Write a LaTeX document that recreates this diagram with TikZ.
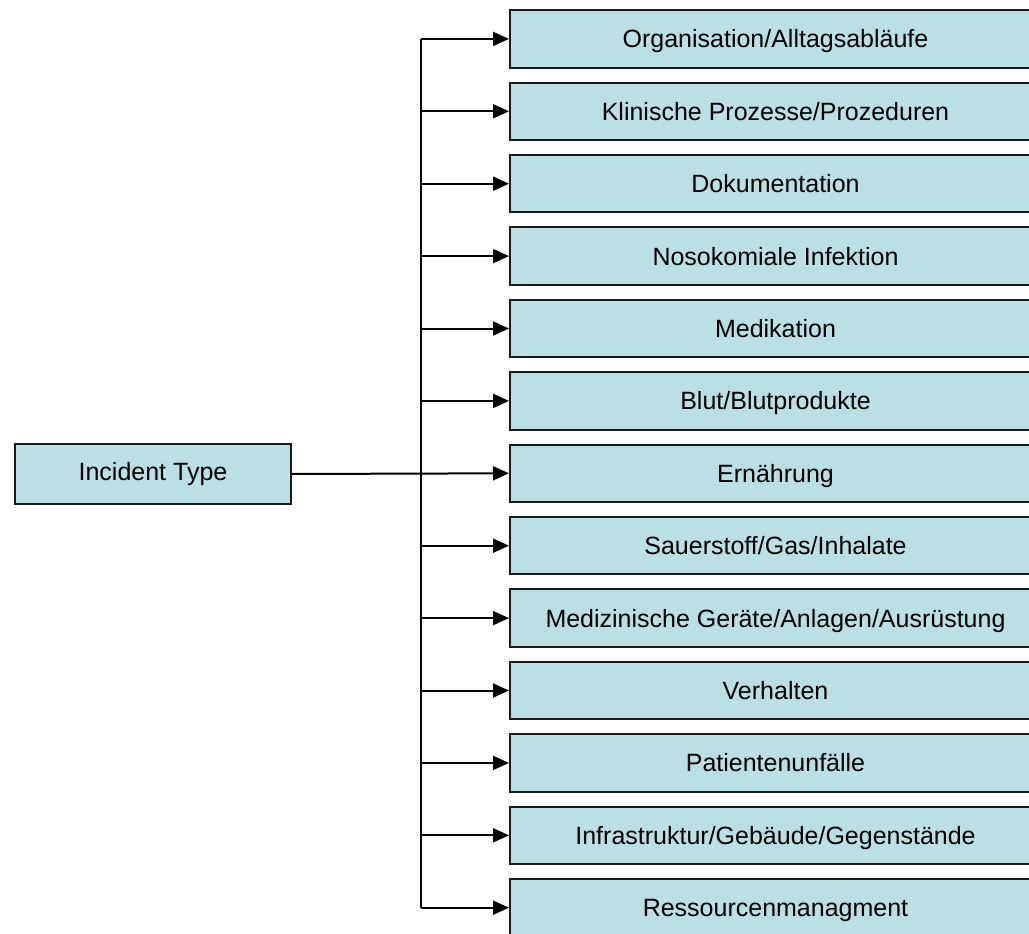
\documentclass[tikz,border=0pt]{standalone}
\usepackage{fontspec}
\setmainfont{Liberation Sans}
\usetikzlibrary{arrows.meta}
\definecolor{boxfill}{HTML}{BBE0E3}
\begin{document}
\begin{tikzpicture}[x=1pt,y=-1pt,
  catbox/.style={draw=black!90,line width=2pt,fill=boxfill,minimum width=531pt,minimum height=57.5pt,anchor=west,inner sep=0pt,text depth=0pt,font=\fontsize{25}{30}\selectfont},
  rootbox/.style={draw=black!90,line width=2pt,fill=boxfill,minimum width=276pt,minimum height=60pt,inner sep=0pt,font=\fontsize{25}{30}\selectfont},
  conn/.style={line width=2pt,black},
  arr/.style={conn,-{Triangle[length=16pt,width=14pt]}}]
\useasboundingbox (0,0) rectangle (1029,934);
\node[rootbox] (root) at (153,474) {Incident Type};
\foreach \i/\t in {1/Organisation\slash Alltagsabläufe,2/Klinische Prozesse\slash Prozeduren,3/Dokumentation,4/Nosokomiale Infektion,5/Medikation,6/Blut\slash Blutprodukte,7/Ernährung,8/Sauerstoff\slash Gas\slash Inhalate,9/Medizinische Geräte\slash Anlagen\slash Ausrüstung,10/Verhalten,11/Patientenunfälle,12/Infrastruktur\slash Gebäude\slash Gegenstände,13/Ressourcenmanagment}{
  \node[catbox] (b\i) at (509,{38.9+(\i-1)*72.4}) {\t};
  \coordinate (t\i) at (421,{38.9+(\i-1)*72.4});
}
\draw[conn] (t1) -- (t13);
\draw[arr] (root.east) -- (b7.west);
\foreach \i in {1,...,6,8,9,...,13}{
  \draw[arr] (t\i) -- (b\i.west);
}
\end{tikzpicture}
\end{document}
